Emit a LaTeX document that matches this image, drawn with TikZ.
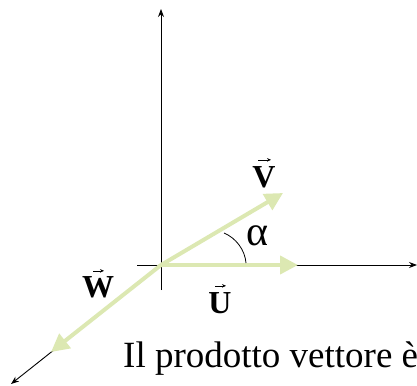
\documentclass[tikz,border=0pt]{standalone}
\usepackage{fontspec}
\setmainfont{Liberation Serif}
\usetikzlibrary{arrows.meta}
\definecolor{vgreen}{RGB}{220,232,178}
\tikzset{
  axis/.style={line width=0.9pt, black, -{Stealth[length=8pt,width=6pt]}},
  vecg/.style={line width=4pt, vgreen, -{Triangle[length=18pt,width=18pt]}, shorten <=0pt},
  lab/.style={inner sep=0pt, anchor=base, font=\fontsize{32}{32}\selectfont\bfseries},
  varrow/.style={line width=0.6pt, -{Stealth[length=4pt,width=3.5pt]}}
}
\begin{document}
\begin{tikzpicture}[x=1pt,y=-1pt]
\useasboundingbox (0,0) rectangle (417,385);
\clip (0,0) rectangle (417,385);
% coordinates
\coordinate (O) at (161,265);
\coordinate (Ytop) at (161,9);
\coordinate (Ybot) at (161,290);
\coordinate (Xleft) at (137,265);
\coordinate (Xright) at (417,265);
\coordinate (Zend) at (11,384);
\coordinate (Utip) at (298,265);
\coordinate (Vtip) at (283,193);
\coordinate (Wtip) at (51,352);
% axes
\draw[axis] (Ybot) -- (Ytop);
\draw[axis] (Xleft) -- (Xright);
\draw[axis] (O) -- (Zend);
% vectors
\draw[vecg] (O) -- (Utip);
\draw[vecg] (O) -- (Vtip);
\draw[vecg] (O) -- (Wtip);
% angle arc
\coordinate (A1) at (224,233);
\coordinate (A2) at (246,263);
\draw[line width=0.8pt] (A1) .. controls (236,238) and (245,250) .. (A2);
% labels
\node[lab] (V) at (264,187) {V};
\node[lab] (W) at (98,297) {W};
\node[lab] (U) at (220,313) {U};
\node[inner sep=0pt, anchor=base, font=\fontsize{42}{42}\selectfont] (alpha) at (257,245) {α};
\draw[varrow] ([shift={(-6,-6)}]V.north) -- ([shift={(7,-6)}]V.north);
\draw[varrow] ([shift={(-5,-5)}]W.north) -- ([shift={(6,-5)}]W.north);
\draw[varrow] ([shift={(-5,-6)}]U.north) -- ([shift={(6,-6)}]U.north);
% text
\node[inner sep=0pt, anchor=base west, font=\fontsize{37}{37}\selectfont] (txt) at (123,367) {Il prodotto vettore è};
\end{tikzpicture}
\end{document}
